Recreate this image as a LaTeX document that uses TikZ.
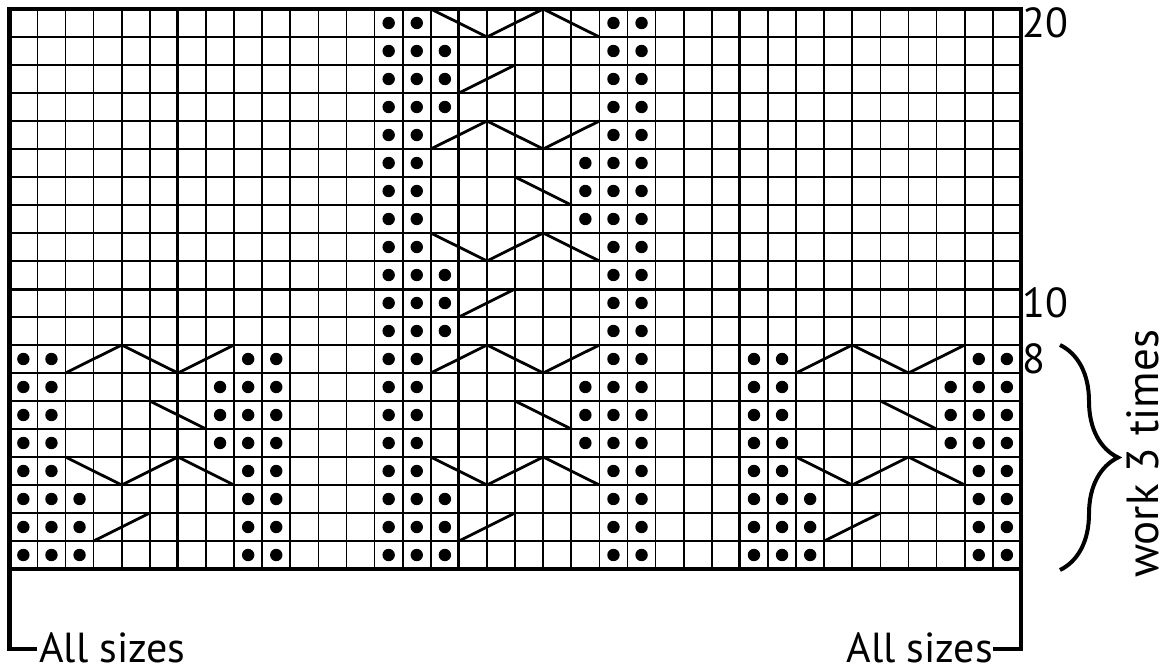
\documentclass[tikz,border=0pt]{standalone}
\usepackage{fontspec}
\setmainfont{PT Sans}
\usetikzlibrary{decorations.pathreplacing}
\tikzset{
 gridline/.style={line width=1.7bp, black},
 thickline/.style={line width=3bp, black},
 borderline/.style={line width=4.5bp, black},
 cable/.style={line width=2.8bp, black, line cap=round, line join=round},
 lbl/.style={inner sep=0pt, font=\fontsize{42bp}{50bp}\selectfont},
 sidelbl/.style={inner sep=0pt, font=\fontsize{45bp}{52bp}\selectfont},
 bracestyle/.style={line width=4bp, black, decorate, decoration={brace, amplitude=58bp}},
}
\newcommand\kdots[3]{\foreach \c in {#3}{\fill[black] ({\c+(#1)+0.5},{#2+0.5}) circle[radius=6.2bp];}}
\newcommand\knitrow[3]{%
 \ifcase#3\relax\or
 \kdots{#1}{#2}{13,14,15,21,22}%
 \or
 \kdots{#1}{#2}{13,14,15,21,22}\draw[cable] ({16+(#1)},{#2+1}) -- ({18+(#1)},{#2});%
 \or
 \kdots{#1}{#2}{13,14,15,21,22}%
 \or
 \kdots{#1}{#2}{13,14,21,22}\draw[cable] ({15+(#1)},{#2}) -- ({17+(#1)},{#2+1}) -- ({19+(#1)},{#2}) -- ({21+(#1)},{#2+1});%
 \or
 \kdots{#1}{#2}{13,14,20,21,22}%
 \or
 \kdots{#1}{#2}{13,14,20,21,22}\draw[cable] ({18+(#1)},{#2}) -- ({20+(#1)},{#2+1});%
 \or
 \kdots{#1}{#2}{13,14,20,21,22}%
 \or
 \kdots{#1}{#2}{13,14,21,22}\draw[cable] ({15+(#1)},{#2+1}) -- ({17+(#1)},{#2}) -- ({19+(#1)},{#2+1}) -- ({21+(#1)},{#2});%
 \fi}
\begin{document}
\begin{tikzpicture}
\useasboundingbox (0,0) rectangle (1167bp,-669bp);
\begin{scope}[shift={(9.3bp,-9bp)}, x=28.1bp, y=-28bp]
 \foreach \c in {0,...,36}{\draw[gridline] (\c,0) -- (\c,20);}
 \foreach \r in {0,...,20}{\draw[gridline] (0,\r) -- (36,\r);}
 \foreach \c in {6,16,26}{\draw[thickline] (\c,0) -- (\c,20);}
 \draw[thickline] (0,10) -- (36,10);
 \foreach \s/\m in {-13/8,0/20,13/8}{
  \foreach \n in {1,...,\m}{
   \pgfmathtruncatemacro\kk{mod(\n-1,8)+1}
   \pgfmathtruncatemacro\rr{20-\n}
   \knitrow{\s}{\rr}{\kk}
  }
 }
 \draw[borderline] (0.98,22.86) -- (0,22.86) -- (0,0) -- (36,0) -- (36,22.86) -- (35.0,22.86);
 \draw[borderline] (0,20) -- (36,20);
\end{scope}
\node[lbl, anchor=west] (l20) at (1022bp,-23bp) {20};
\node[lbl, anchor=west] (l10) at (1022bp,-303bp) {10};
\node[lbl, anchor=west] (l8) at (1022bp,-359bp) {8};
\node[lbl, anchor=base west] (asl) at (39bp,-662bp) {All sizes};
\node[lbl, anchor=base east] (asr) at (993bp,-662bp) {All sizes};
\node[sidelbl, rotate=90, anchor=base west] (w3) at (1158bp,-578bp) {work 3 times};
\draw[bracestyle] (1060bp,-345bp) -- (1060bp,-570bp);
\end{tikzpicture}
\end{document}
